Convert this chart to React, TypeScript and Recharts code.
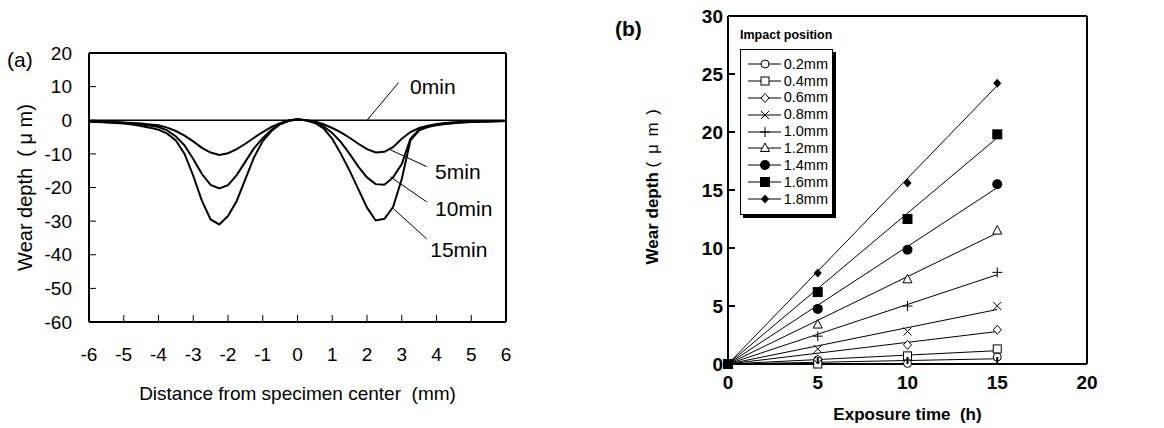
import React from 'react';
import {
  ComposedChart,
  LineChart,
  Line,
  Scatter,
  XAxis,
  YAxis,
  ReferenceLine,
  ReferenceDot,
  Legend,
} from 'recharts';

const FONT = '"Liberation Sans", Arial, Helvetica, sans-serif';
const INK = '#000';

// (a) wear depth profile across the specimen, per exposure time
const distanceMm = [
  -6, -5.75, -5.5, -5.25, -5, -4.75, -4.5, -4.25, -4, -3.75, -3.5, -3.25, -3, -2.75, -2.5, -2.25, -2, -1.75, -1.5,
  -1.25, -1, -0.75, -0.5, -0.25, 0, 0.25, 0.5, 0.75, 1, 1.25, 1.5, 1.75, 2, 2.25, 2.5, 2.75, 3, 3.25, 3.5, 3.75, 4,
  4.25, 4.5, 4.75, 5, 5.25, 5.5, 5.75, 6,
];
const depth5min = [
  -0.3, -0.35, -0.45, -0.55, -0.7, -0.85, -1.0, -1.25, -1.5, -2.2, -3.2, -4.6, -6.3, -8.2, -9.6, -10.3, -9.8, -8.6, -7.0,
  -5.2, -3.5, -2.0, -0.9, -0.1, 0.3, 0, -0.4, -1.2, -2.3, -3.6, -5.2, -7.0, -8.6, -9.6, -9.4, -8.0, -5.5, -3.5, -2.3,
  -1.6, -1.1, -0.8, -0.6, -0.5, -0.4, -0.35, -0.3, -0.25, -0.2,
];
const depth10min = [
  -0.35, -0.45, -0.55, -0.7, -0.85, -1.05, -1.3, -1.6, -2.0, -3.0, -4.8, -7.5, -11.5, -16.0, -19.2, -20.3, -19.3, -16.3,
  -12.3, -8.3, -5.3, -2.8, -1.1, -0.1, 0.3, 0, -0.6, -1.8, -3.8, -6.5, -10, -13.8, -17, -19, -19.2, -17, -13, -5.5, -2.8,
  -1.9, -1.3, -1.0, -0.8, -0.6, -0.5, -0.4, -0.35, -0.3, -0.2,
];
const depth15min = [
  -0.4, -0.5, -0.65, -0.8, -1.0, -1.3, -1.7, -2.2, -2.8, -4.0, -6.0, -10.0, -16.5, -24, -29.5, -31, -28.5, -24, -17.5,
  -11, -6.2, -3.2, -1.2, -0.2, 0.3, -0.1, -0.8, -2.4, -5.5, -10, -15, -20.5, -26, -29.8, -29.3, -25.8, -17.5, -6.0, -3.0,
  -2.0, -1.5, -1.1, -0.9, -0.7, -0.55, -0.45, -0.35, -0.3, -0.2,
];
const flatDistance = [-6, 6];
const depth0min = [0, 0];
const distanceTicks = [-6, -5, -4, -3, -2, -1, 0, 1, 2, 3, 4, 5, 6];
const profileTicks = [-60, -50, -40, -30, -20, -10, 0, 10, 20];

// curve labels with their leader lines, in data units
const curveNotes = [
  { text: '0min', x: 3.24, y: 9.9, x1: 2.0, y1: 0, x2: 2.91, y2: 11.2 },
  { text: '5min', x: 3.96, y: -15.3, x1: 2.67, y1: -8.8, x2: 3.72, y2: -13.8 },
  { text: '10min', x: 3.96, y: -26.3, x1: 2.67, y1: -16.8, x2: 3.72, y2: -24.3 },
  { text: '15min', x: 3.82, y: -38.3, x1: 2.76, y1: -26.3, x2: 3.72, y2: -35.3 },
];

// (b) wear depth vs exposure time, per impact position
const timesH = [0, 5, 10, 15];
const depth02 = [0, 0.35, 0.05, 0.6];
const depth04 = [0, 0.0, 0.7, 1.3];
const depth06 = [0, 0.4, 1.65, 2.95];
const depth08 = [0, 1.3, 2.8, 5.0];
const depth10 = [0, 2.4, 5.0, 7.9];
const depth12 = [0, 3.4, 7.3, 11.5];
const depth14 = [0, 4.75, 9.85, 15.5];
const depth16 = [0, 6.2, 12.5, 19.8];
const depth18 = [0, 7.85, 15.6, 24.2];
// fitted straight lines through the origin
const fitTimes = [0, 15];
const fitEnds = [0.45, 1.15, 2.8, 4.7, 7.7, 11.3, 15.2, 19.5, 24.0];
const impactNames = ['0.2mm', '0.4mm', '0.6mm', '0.8mm', '1.0mm', '1.2mm', '1.4mm', '1.6mm', '1.8mm'];
const markerKinds = ['circle', 'square', 'diamond', 'cross', 'plus', 'triangle', 'disc', 'block', 'gem'];
const timeTicks = [0, 5, 10, 15, 20];
const depthTicks = [0, 5, 10, 15, 20, 25, 30];

const profileRows = distanceMm.map((x, i) => ({ x, m5: depth5min[i], m10: depth10min[i], m15: depth15min[i] }));
const flatRows = flatDistance.map((x, i) => ({ x, m0: depth0min[i] }));

const impactDepths = [depth02, depth04, depth06, depth08, depth10, depth12, depth14, depth16, depth18];
const impactSeries = impactNames.map((name, k) => ({
  name,
  kind: markerKinds[k],
  points: timesH.map((t, i) => ({ t, d: impactDepths[k][i] })),
  fit: fitTimes.map((t, i) => ({ t, d: i === 0 ? 0 : fitEnds[k] })),
}));

function drawMarker(kind: string, cx: number, cy: number) {
  const s = { stroke: INK, strokeWidth: 1 };
  switch (kind) {
    case 'circle':
      return <circle cx={cx} cy={cy} r={4} fill="#fff" {...s} />;
    case 'square':
      return <rect x={cx - 4} y={cy - 4} width={8} height={8} fill="#fff" {...s} />;
    case 'diamond':
      return <path d={`M${cx},${cy - 4.5}L${cx + 4},${cy}L${cx},${cy + 4.5}L${cx - 4},${cy}Z`} fill="#fff" {...s} />;
    case 'cross':
      return <path d={`M${cx - 4},${cy - 4}L${cx + 4},${cy + 4}M${cx - 4},${cy + 4}L${cx + 4},${cy - 4}`} fill="none" {...s} />;
    case 'plus':
      return <path d={`M${cx - 5},${cy}L${cx + 5},${cy}M${cx},${cy - 5}L${cx},${cy + 5}`} fill="none" {...s} />;
    case 'triangle':
      return <path d={`M${cx},${cy - 5}L${cx + 4.5},${cy + 3.5}L${cx - 4.5},${cy + 3.5}Z`} fill="#fff" {...s} />;
    case 'disc':
      return <circle cx={cx} cy={cy} r={5} fill={INK} />;
    case 'block':
      return <rect x={cx - 5} y={cy - 5} width={10} height={10} fill={INK} />;
    default:
      return <path d={`M${cx},${cy - 4.5}L${cx + 4},${cy}L${cx},${cy + 4.5}L${cx - 4},${cy}Z`} fill={INK} />;
  }
}

// tick mark pointing into the plot, label (if any) outside; used with tickSize 0 and tickMargin = gap
type Side = 'left' | 'right' | 'top' | 'bottom';
function inwardTick(side: Side, gap: number, len: number, lineW: number, label?: React.CSSProperties) {
  return (props: any) => {
    const { x, y, payload } = props;
    let x1 = x, y1 = y, x2 = x, y2 = y;
    if (side === 'bottom') { y1 = y - gap; y2 = y1 - len; }
    if (side === 'top') { y1 = y + gap; y2 = y1 + len; }
    if (side === 'left') { x1 = x + gap; x2 = x1 + len; }
    if (side === 'right') { x1 = x - gap; x2 = x1 - len; }
    return (
      <g>
        <line x1={x1} y1={y1} x2={x2} y2={y2} stroke={INK} strokeWidth={lineW} />
        {label && (
          <text
            x={x}
            y={y}
            dy={side === 'bottom' ? '0.71em' : '0.355em'}
            textAnchor={side === 'left' ? 'end' : 'middle'}
            style={label}
          >
            {payload.value}
          </text>
        )}
      </g>
    );
  };
}

function xTitle(text: string, dy: number, style: React.CSSProperties) {
  return (props: any) => {
    const vb = props.viewBox;
    return (
      <text x={vb.x + vb.width / 2} y={vb.y + dy} textAnchor="middle" dominantBaseline="central" style={{ whiteSpace: 'pre', ...style }}>
        {text}
      </text>
    );
  };
}

function yTitle(content: React.ReactNode, cx: number, dy: number, style: React.CSSProperties) {
  return (props: any) => {
    const vb = props.viewBox;
    const cy = vb.y + vb.height / 2 + dy;
    return (
      <text x={cx} y={cy} transform={`rotate(-90 ${cx} ${cy})`} textAnchor="middle" dominantBaseline="central" style={{ whiteSpace: 'pre', ...style }}>
        {content}
      </text>
    );
  };
}

function ImpactLegend() {
  return (
    <div style={{ fontFamily: FONT, color: INK, lineHeight: 1 }}>
      <div style={{ fontSize: 12.5, fontWeight: 700, whiteSpace: 'nowrap', marginBottom: 7 }}>Impact position</div>
      <div style={{ border: `1px solid ${INK}`, boxShadow: `3px 3px 0 ${INK}`, padding: '6px 4px 6px 7px', width: 80, background: '#fff' }}>
        {impactSeries.map((s) => (
          <div key={s.name} style={{ display: 'flex', alignItems: 'center', height: 16.9 }}>
            <svg width={34} height={14} style={{ display: 'block' }}>
              <line x1={0} y1={7} x2={34} y2={7} stroke={INK} strokeWidth={1} />
              {drawMarker(s.kind, 17, 7)}
            </svg>
            <span style={{ fontSize: 14.5, marginLeft: 3, whiteSpace: 'nowrap' }}>{s.name}</span>
          </div>
        ))}
      </div>
    </div>
  );
}

const axisLine = { stroke: INK, strokeWidth: 2 };
const labelA: React.CSSProperties = { fill: INK, fontSize: 19, fontFamily: FONT };
const labelB: React.CSSProperties = { fill: INK, fontSize: 19, fontFamily: FONT, fontWeight: 700 };

function ProfileChart() {
  return (
    <LineChart width={540} height={428} data={profileRows} margin={{ top: 52, right: 33, bottom: 0, left: 0 }}>
      <XAxis
        type="number"
        dataKey="x"
        domain={[-6, 6]}
        ticks={distanceTicks}
        interval={0}
        height={106}
        tickSize={0}
        tickMargin={26}
        axisLine={axisLine}
        tickLine={false}
        tick={inwardTick('bottom', 26, 7, 1, labelA)}
        label={{ content: xTitle('Distance from specimen center  (mm)', 71, { fontSize: 19, fontFamily: FONT, fill: INK }) }}
      />
      <XAxis xAxisId="top" orientation="top" type="number" domain={[-6, 6]} height={1} tick={false} tickLine={false} axisLine={axisLine} />
      <YAxis
        type="number"
        domain={[-60, 20]}
        ticks={profileTicks}
        interval={0}
        width={89}
        tickSize={0}
        tickMargin={17}
        axisLine={axisLine}
        tickLine={false}
        tick={inwardTick('left', 17, 7, 1, labelA)}
        label={{ content: yTitle('Wear depth  ( μ m)', 25, 0, { fontSize: 20, fontFamily: FONT, fill: INK }) }}
      />
      <YAxis yAxisId="right" orientation="right" type="number" domain={[-60, 20]} width={1} tick={false} tickLine={false} axisLine={axisLine} />
      <Line data={flatRows} dataKey="m0" stroke={INK} strokeWidth={1.6} dot={false} isAnimationActive={false} />
      <Line dataKey="m5" type="linear" stroke={INK} strokeWidth={2} dot={false} isAnimationActive={false} />
      <Line dataKey="m10" type="linear" stroke={INK} strokeWidth={2} dot={false} isAnimationActive={false} />
      <Line dataKey="m15" type="linear" stroke={INK} strokeWidth={2} dot={false} isAnimationActive={false} />
      {curveNotes.map((n) => (
        <ReferenceLine
          key={`l-${n.text}`}
          segment={[{ x: n.x1, y: n.y1 }, { x: n.x2, y: n.y2 }]}
          stroke={INK}
          strokeWidth={1}
          ifOverflow="visible"
        />
      ))}
      {curveNotes.map((n) => (
        <ReferenceDot
          key={`t-${n.text}`}
          x={n.x}
          y={n.y}
          r={0}
          ifOverflow="visible"
          shape={(p: any) => (
            <text x={p.cx} y={p.cy} dominantBaseline="central" style={{ fontSize: 21, fontFamily: FONT, fill: INK }}>
              {n.text}
            </text>
          )}
        />
      ))}
    </LineChart>
  );
}

function ExposureChart() {
  return (
    <ComposedChart width={584} height={428} margin={{ top: 15, right: 76, bottom: 0, left: 0 }}>
      <XAxis
        type="number"
        dataKey="t"
        domain={[0, 20]}
        ticks={timeTicks}
        interval={0}
        height={64}
        tickSize={0}
        tickMargin={12}
        axisLine={axisLine}
        tickLine={false}
        tick={inwardTick('bottom', 12, 7, 2, labelB)}
        label={{ content: xTitle('Exposure time  (h)', 50, { fontSize: 17, fontFamily: FONT, fontWeight: 700, fill: INK }) }}
      />
      <XAxis
        xAxisId="top"
        orientation="top"
        type="number"
        domain={[0, 20]}
        ticks={timeTicks}
        interval={0}
        height={1}
        tickSize={0}
        tickMargin={0}
        axisLine={axisLine}
        tickLine={false}
        tick={inwardTick('top', 0, 7, 2)}
      />
      <YAxis
        type="number"
        dataKey="d"
        domain={[0, 30]}
        ticks={depthTicks}
        interval={0}
        width={148}
        tickSize={0}
        tickMargin={5}
        axisLine={axisLine}
        tickLine={false}
        tick={inwardTick('left', 5, 7, 2, labelB)}
        label={{
          content: yTitle(
            <>
              <tspan>Wear depth </tspan>
              <tspan style={{ fontWeight: 400, letterSpacing: 1.5 }}>( μ m )</tspan>
            </>,
            72,
            -4,
            { fontSize: 17, fontFamily: FONT, fontWeight: 700, fill: INK },
          ),
        }}
      />
      <YAxis
        yAxisId="right"
        orientation="right"
        type="number"
        domain={[0, 30]}
        ticks={depthTicks}
        interval={0}
        width={1}
        tickSize={0}
        tickMargin={0}
        axisLine={axisLine}
        tickLine={false}
        tick={inwardTick('right', 0, 7, 2)}
      />
      {impactSeries.map((s) => (
        <Line
          key={`fit-${s.name}`}
          data={s.fit}
          dataKey="d"
          type="linear"
          stroke={INK}
          strokeWidth={1}
          dot={false}
          legendType="none"
          isAnimationActive={false}
        />
      ))}
      {impactSeries.map((s) => (
        <Scatter
          key={`pts-${s.name}`}
          name={s.name}
          data={s.points}
          dataKey="d"
          shape={(p: any) => drawMarker(s.kind, p.cx, p.cy)}
          isAnimationActive={false}
        />
      ))}
      <Legend
        layout="horizontal"
        verticalAlign="middle"
        align="center"
        content={() => <ImpactLegend />}
        wrapperStyle={{ left: 160, top: 29, width: 'auto', height: 'auto' }}
      />
    </ComposedChart>
  );
}

export default function App() {
  return (
    <div style={{ position: 'absolute', left: 0, top: 0, width: 1164, height: 428, background: '#fff', fontFamily: FONT }}>
      <div style={{ position: 'absolute', left: 0, top: 0 }}>
        <ProfileChart />
      </div>
      <div style={{ position: 'absolute', left: 580, top: 0 }}>
        <ExposureChart />
      </div>
      <div style={{ position: 'absolute', left: 7, top: 49, fontSize: 21, lineHeight: 1, color: INK }}>(a)</div>
      <div style={{ position: 'absolute', left: 615, top: 18, fontSize: 21, fontWeight: 700, lineHeight: 1, color: INK }}>(b)</div>
    </div>
  );
}
